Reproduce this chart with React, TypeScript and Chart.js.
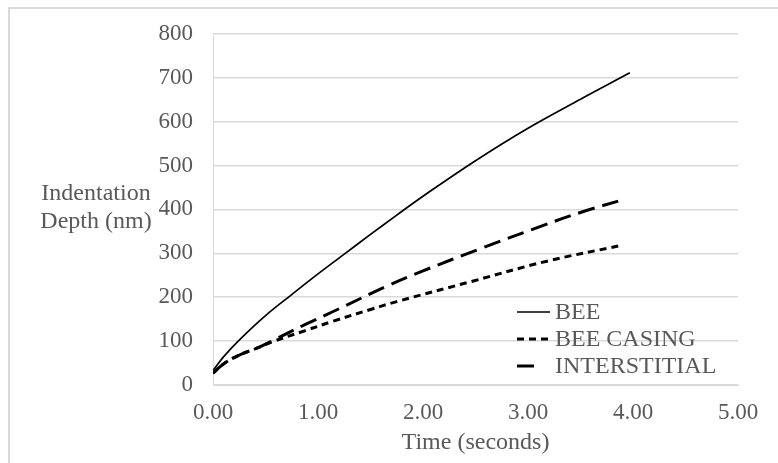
import React, { useEffect, useRef } from "react";
import { Chart, registerables } from "chart.js";

Chart.register(...registerables);

// Indentation depth (nm) against time (s) for each sample type
const beeTime = [0, 0.1, 0.24, 0.5, 0.75, 1.0, 1.25, 1.5, 1.75, 2.0, 2.5, 3.0, 3.5, 3.97];
const beeDepth = [33, 64, 100, 158, 206, 253, 298, 343, 387, 430, 511, 585, 651, 711];

const casingTime = [0, 0.1, 0.24, 0.43, 0.56, 0.88, 1.14, 1.5, 1.75, 2.48, 3.18, 3.89];
const casingDepth = [27, 48, 67, 85, 98, 124, 145, 172, 190, 237, 282, 318];

const interTime = [0, 0.1, 0.24, 0.43, 0.56, 0.88, 1.15, 1.69, 2.0, 2.54, 3.14, 3.5, 3.93];
const interDepth = [27, 48, 67, 85, 100, 138, 168, 229, 260, 310, 363, 393, 424];

const seriesNames = ["BEE", "BEE CASING", "INTERSTITIAL"];
const yTitleLines = ["Indentation", "Depth (nm)"];
const xTitle = "Time (seconds)";

const FONT = "'Liberation Serif', 'Times New Roman', serif";
const TEXT = "#595959";
const GRID = "#d9d9d9";

const toPoints = (xs: number[], ys: number[]) => xs.map((x, i) => ({ x, y: ys[i] }));

const styles = [
  { width: 1.7, dash: [] as number[] },
  { width: 3, dash: [7, 5] },
  { width: 3, dash: [17, 8] },
];

const overlay = {
  id: "overlay",
  afterDraw(chart: any) {
    const { ctx, chartArea } = chart;
    ctx.save();
    ctx.fillStyle = TEXT;
    ctx.font = `24px ${FONT}`;
    ctx.textAlign = "center";
    ctx.textBaseline = "middle";
    // horizontal y-axis title, two lines
    ctx.fillText(yTitleLines[0], 96, 194);
    ctx.fillText(yTitleLines[1], 96, 222);
    // x-axis title
    ctx.fillText(xTitle, (chartArea.left + chartArea.right) / 2, 443);

    // legend inside the plot
    const lx0 = 517;
    const rows = [312, 339, 366];
    const sampleEnds = [550, 550, 540];
    ctx.textAlign = "left";
    rows.forEach((y, i) => {
      ctx.save();
      ctx.strokeStyle = "#000";
      ctx.lineWidth = styles[i].width;
      ctx.setLineDash(styles[i].dash);
      ctx.beginPath();
      ctx.moveTo(lx0, y);
      ctx.lineTo(sampleEnds[i], y);
      ctx.stroke();
      ctx.restore();
      ctx.fillText(seriesNames[i], 555, y + 1);
    });
    ctx.restore();
  },
};

export default function App() {
  const ref = useRef<HTMLCanvasElement>(null);

  useEffect(() => {
    if (!ref.current) return;
    const data = [
      toPoints(beeTime, beeDepth),
      toPoints(casingTime, casingDepth),
      toPoints(interTime, interDepth),
    ];
    const chart = new Chart(ref.current, {
      type: "line",
      data: {
        datasets: data.map((d, i) => ({
          label: seriesNames[i],
          data: d,
          borderColor: "#000",
          borderWidth: styles[i].width,
          borderDash: styles[i].dash,
          pointRadius: 0,
          fill: false,
          tension: 0.4,
        })),
      },
      options: {
        animation: false,
        responsive: false,
        layout: { padding: { top: 28, right: 40, left: 0, bottom: 0 } },
        plugins: { legend: { display: false }, tooltip: { enabled: false } },
        scales: {
          x: {
            type: "linear",
            min: 0,
            max: 5,
            ticks: {
              stepSize: 1,
              color: TEXT,
              font: { family: FONT, size: 23 },
              padding: 14,
              callback: (v: any) => Number(v).toFixed(2),
            },
            grid: { display: false, drawTicks: false },
            border: { display: true, color: GRID },
            afterFit: (s: any) => {
              s.height = 78;
            },
          },
          y: {
            min: 0,
            max: 800,
            ticks: {
              stepSize: 100,
              color: TEXT,
              font: { family: FONT, size: 23 },
              padding: 20,
            },
            grid: { color: GRID, drawTicks: false, lineWidth: 1.5 },
            border: { display: true, color: GRID },
            afterFit: (s: any) => {
              s.width = 213;
            },
          },
        },
      },
      plugins: [overlay],
    });
    return () => chart.destroy();
  }, []);

  return (
    <div style={{ position: "fixed", left: 0, top: 0, width: 778, height: 463, background: "#fff" }}>
      <div
        style={{
          position: "absolute",
          left: 8,
          top: 7,
          width: 800,
          height: 500,
          borderLeft: `2px solid ${GRID}`,
          borderTop: `2px solid ${GRID}`,
        }}
      />
      <canvas ref={ref} width={778} height={463} style={{ position: "absolute", left: 0, top: 0 }} />
    </div>
  );
}
